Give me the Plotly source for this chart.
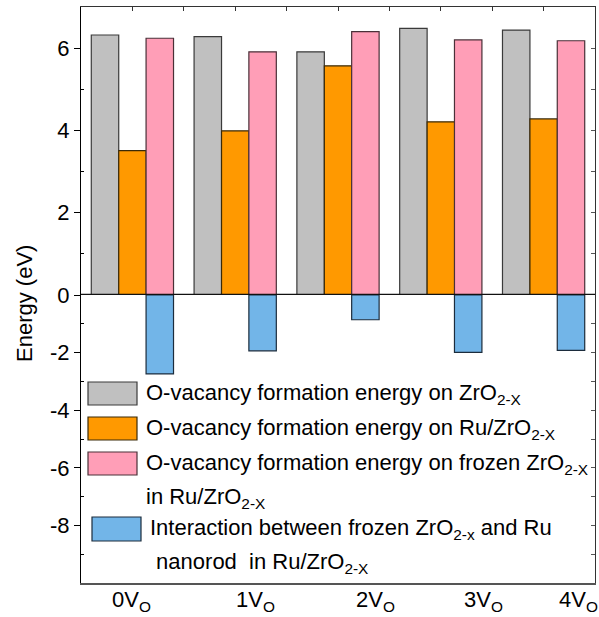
import plotly.graph_objects as go

# Vacancy states on the x axis
categories = ["0V<sub>O</sub>", "1V<sub>O</sub>", "2V<sub>O</sub>", "3V<sub>O</sub>", "4V<sub>O</sub>"]

# Energies in eV
e_zro2 = [6.32, 6.28, 5.91, 6.48, 6.44]          # O-vacancy formation energy on ZrO2-x
e_ru_zro2 = [3.51, 3.99, 5.57, 4.21, 4.28]       # O-vacancy formation energy on Ru/ZrO2-x
e_frozen = [6.24, 5.91, 6.40, 6.20, 6.18]        # on frozen ZrO2-x in Ru/ZrO2-x
e_interaction = [-2.74, -1.94, -0.86, -1.99, -1.92]  # frozen ZrO2-x / Ru nanorod interaction

legend_lines = [
    ["O-vacancy formation energy on ZrO<sub>2-X</sub>"],
    ["O-vacancy formation energy on Ru/ZrO<sub>2-X</sub>"],
    ["O-vacancy formation energy on frozen ZrO<sub>2-X</sub>", "in Ru/ZrO<sub>2-X</sub>"],
    ["Interaction between frozen ZrO<sub>2-x</sub> and Ru", " nanorod  in Ru/ZrO<sub>2-X</sub>"],
]

y_pos_ticks = [0, 2, 4, 6]
y_neg_ticks = [-8, -6, -4, -2]
y_neg_labels = ["-8", "-6", "-4", "-2"]

# ---- styling ----
FONT = "Liberation Sans, Arial, sans-serif"
W, H = 599, 617
PL, PR, PT, PB = 81, 595, 7, 583          # plot-area edges in pixels
fills = ["#c0c0c0", "#ff9900", "#ff9eb7", "#72b5e8"]
edges = ["#3a3a3a", "#3a2a08", "#4a3038", "#1c2c3c"]
BW = 0.267
offsets = [-0.4, -0.133, 0.133, 0.133]
label_shift_px = [-1, 20, 37, 43, 35]


def px_x(px):
    return (px - PL) / (PR - PL)


def px_y(py):
    return (PB - py) / (PB - PT)


xs = list(range(len(categories)))
fig = go.Figure()
series = [(e_zro2, "y"), (e_ru_zro2, "y"), (e_frozen, "y"), (e_interaction, "y2")]
for i, (vals, ya) in enumerate(series):
    fig.add_trace(go.Bar(
        x=xs, y=vals, xaxis="x", yaxis=ya,
        width=BW, offset=offsets[i],
        marker=dict(color=fills[i], line=dict(color=edges[i], width=1.2)),
        showlegend=False,
    ))

axis_common = dict(showgrid=False, zeroline=False, showline=True,
                   linecolor="black", linewidth=1.3,
                   tickfont=dict(family=FONT, size=22, color="black"))

fig.update_layout(
    width=W, height=H,
    margin=dict(l=PL, r=W - PR, t=PT, b=H - PB),
    paper_bgcolor="white", plot_bgcolor="white",
    barmode="overlay",
    xaxis=dict(range=[-0.5, 4.5], anchor="y2", showgrid=False, zeroline=False,
               showline=True, linecolor="#555555", linewidth=2,
               showticklabels=False, ticks=""),
    xaxis2=dict(range=[-0.5, 4.5], overlaying="x", side="top", anchor="y",
                showgrid=False, zeroline=False, showline=True, linecolor="#333333",
                linewidth=1.3, ticks="inside", ticklen=4, tickcolor="#333333",
                tickvals=[v / 2 for v in range(-1, 10)], showticklabels=False),
    yaxis=dict(range=[0, 7], domain=[0.5, 1], anchor="x",
               tickvals=y_pos_ticks, ticks="outside", ticklen=6, tickcolor="black",
               minor=dict(tickvals=[1, 3, 5], ticks="inside", ticklen=3, tickcolor="black"),
               **axis_common),
    yaxis2=dict(range=[-10, 0], domain=[0, 0.5], anchor="x",
                tickvals=y_neg_ticks, ticktext=y_neg_labels,
                ticks="outside", ticklen=6, tickcolor="black",
                minor=dict(tickvals=[-9, -7, -5, -3, -1], ticks="inside", ticklen=3,
                           tickcolor="black"),
                **axis_common),
    yaxis3=dict(range=[0, 7], overlaying="y", side="right", anchor="x",
                showgrid=False, zeroline=False, showline=True, linecolor="#333333",
                linewidth=1.3, ticks="inside", ticklen=4, tickcolor="#555555",
                dtick=1, showticklabels=False),
    yaxis4=dict(range=[-10, 0], overlaying="y2", side="right", anchor="x",
                showgrid=False, zeroline=False, showline=True, linecolor="#333333",
                linewidth=1.3, ticks="inside", ticklen=4, tickcolor="#555555",
                dtick=1, showticklabels=False),
)

# invisible traces so the mirrored frame axes are drawn
fig.add_trace(go.Scatter(x=[0], y=[0], xaxis="x2", yaxis="y", mode="markers",
                         marker=dict(opacity=0), showlegend=False, hoverinfo="skip"))
fig.add_trace(go.Scatter(x=[0], y=[1], xaxis="x", yaxis="y3", mode="markers",
                         marker=dict(opacity=0), showlegend=False, hoverinfo="skip"))
fig.add_trace(go.Scatter(x=[0], y=[-1], xaxis="x", yaxis="y4", mode="markers",
                         marker=dict(opacity=0), showlegend=False, hoverinfo="skip"))

# thick zero line
fig.add_shape(type="line", xref="paper", yref="y", x0=0, x1=1, y0=0, y1=0,
              line=dict(color="#111111", width=2.5), layer="above")

annotations = []
# y-axis title
annotations.append(dict(text="Energy (eV)", xref="paper", yref="paper",
                        x=px_x(24), y=px_y(304), xanchor="center", yanchor="middle",
                        textangle=-90, showarrow=False,
                        font=dict(family=FONT, size=22, color="black")))
# category labels
for i, lab in enumerate(categories):
    annotations.append(dict(text=lab, xref="x", yref="paper", x=i, y=px_y(585),
                            xshift=label_shift_px[i], xanchor="center", yanchor="top",
                            showarrow=False,
                            font=dict(family=FONT, size=22, color="black")))

# legend: swatches and text
sw_boxes = [(88, 137, 382, 405), (88, 137, 417, 440), (88, 137, 452, 475), (92, 141, 517, 541)]
text_rows = [[(144, 394)], [(144, 429)], [(144, 464), (144, 498)], [(148, 529), (148, 563)]]
for k, lines in enumerate(legend_lines):
    x0, x1, y0, y1 = sw_boxes[k]
    fig.add_shape(type="rect", xref="paper", yref="paper",
                  x0=px_x(x0), x1=px_x(x1), y0=px_y(y1), y1=px_y(y0),
                  fillcolor=fills[k], line=dict(color=edges[k], width=1.2), layer="above")
    for line, (tx, ty) in zip(lines, text_rows[k]):
        annotations.append(dict(text=line, xref="paper", yref="paper",
                                x=px_x(tx), y=px_y(ty), xanchor="left", yanchor="middle",
                                showarrow=False,
                                font=dict(family=FONT, size=22, color="black")))

fig.update_layout(annotations=annotations)
fig.write_html("out.html")
